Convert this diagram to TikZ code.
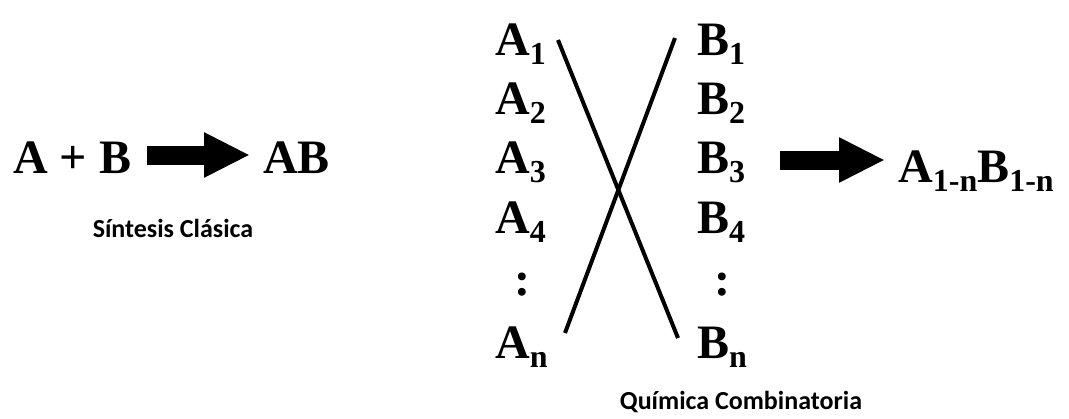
\documentclass[tikz,border=0pt]{standalone}
\usepackage{fontspec}
\setmainfont{Liberation Serif}
\newfontfamily\piefont{Carlito}
\usetikzlibrary{arrows.meta}
\newcommand{\idx}[1]{\raisebox{-9pt}{\fontsize{32}{32}\selectfont #1}}
\begin{document}
\begin{tikzpicture}[x=1pt,y=-1pt,
  letra/.style={anchor=base west,inner sep=0pt,font=\bfseries\fontsize{48}{48}\selectfont},
  flecha/.style={line width=19pt,-{Triangle[length=46pt,width=42pt]}},
  raya/.style={line width=4pt},
  pie/.style={anchor=base,inner sep=0pt,font=\piefont\bfseries\fontsize{26}{26}\selectfont}]
  \useasboundingbox (0,0) rectangle (1069,418);
  % sintesis clasica
  \node[letra] (apb) at (13,173) {A + B};
  \node[letra] (ab) at (263,173) {AB};
  \draw[flecha] ([xshift=16pt,yshift=18pt]apb.base east) -- ([xshift=-13pt,yshift=18pt]ab.base west);
  \node[pie] (sc) at (173,237) {Síntesis Clásica};
  % quimica combinatoria
  \foreach \i/\y in {1/55,2/114,3/173,4/233} {
    \node[letra] (a\i) at (495,\y) {A\idx{\i}};
    \node[letra] (b\i) at (697,\y) {B\idx{\i}};
  }
  \node[letra,anchor=base] (adots) at (522,295) {:};
  \node[letra,anchor=base] (bdots) at (722,295) {:};
  \node[letra] (an) at (495,358) {A\idx{n}};
  \node[letra] (bn) at (697,358) {B\idx{n}};
  \coordinate (x1) at (558,40);
  \coordinate (x2) at (678,338);
  \coordinate (y1) at (675,38);
  \coordinate (y2) at (565,333);
  \draw[raya] (x1) -- (x2);
  \draw[raya] (y1) -- (y2);
  \node[letra] (prod) at (898,182) {A\idx{1-n}B\idx{1-n}};
  \draw[flecha] ([xshift=35pt,yshift=13pt]b3.base east) -- ([xshift=-13pt,yshift=22pt]prod.base west);
  \node[pie] (qc) at (741,409) {Química Combinatoria};
\end{tikzpicture}
\end{document}
